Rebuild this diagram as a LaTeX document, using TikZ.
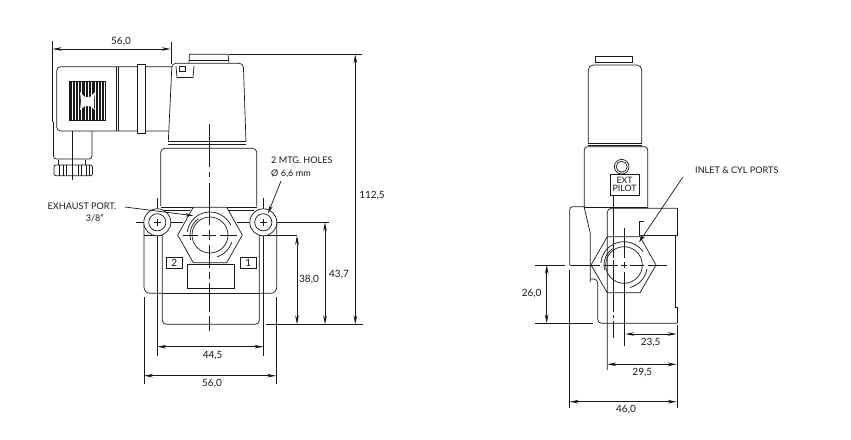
\documentclass[tikz,border=0pt]{standalone}
\usepackage{fontspec}
\setmainfont{Lato}
\usetikzlibrary{arrows.meta}
\definecolor{ink}{RGB}{25,25,25}
\tikzset{
  part/.style={draw=ink,line width=0.7pt},
  thin part/.style={draw=ink,line width=0.5pt},
  ext/.style={draw=ink,line width=0.7pt},
  dim/.style={draw=ink,line width=0.7pt,{Stealth[length=9pt,width=3.6pt]}-{Stealth[length=9pt,width=3.6pt]}},
  leader/.style={draw=ink,line width=0.7pt,-{Stealth[length=8pt,width=3.6pt]}},
  lbl/.style={font=\fontsize{10}{11}\selectfont,text=ink,inner sep=0pt},
  small/.style={font=\fontsize{9.1}{10}\selectfont,text=ink,inner sep=0pt,align=center}
}
\begin{document}
\begin{tikzpicture}[x=1pt,y=-1pt]
\useasboundingbox (0,0) rectangle (851,439);
\fill[white] (0,0) rectangle (851,439);

% ===== LEFT VIEW =====
% connector
\draw[part,rounded corners=4pt] (172,66.7) -- (56.7,66.7) -- (56.7,131) -- (168,131);
\draw[part] (116.6,66.7) -- (116.6,131) (118.4,66.7) -- (118.4,131);
\draw[part,fill=white] (137.3,64.5) rectangle (145.3,133.5);
% grille
\fill[ink] (69.3,81) rectangle (105.7,120.7);
\foreach \x in {72,75.3,78.6,81.9,85.2,88.5,91.8,95.1,98.4,101.7,104.4}
  \draw[white,line width=0.9pt] (\x,81.5) -- (\x,120.2);
\fill[white] (80,92) -- (85,97) -- (90,97) -- (95,92) -- (94,101) -- (94,108) -- (95,110) -- (90,106) -- (85,106) -- (80,110) -- (81,101) -- cycle;
% plug
\draw[part,rounded corners=3pt] (53.5,122) -- (53.5,159) -- (92,159) -- (92,131);
\draw[part] (72.3,131) -- (72.3,180);
\draw[part,rounded corners=2pt] (54,165) rectangle (92.5,175.7);
\draw[part] (58,159.5) -- (58,165) (85,159.5) -- (85,165);
\foreach \x in {59,63,66,78,81,86,89}
  \draw[thin part] (\x,165) -- (\x,175.7);
% coil, cap
\draw[part] (189,62.7) -- (189.4,54.3) -- (228,54.3) -- (229,62.7);
\draw[part] (189,60) -- (229,60);
\draw[part,rounded corners=4pt] (168.3,141.7) -- (172,63.3) -- (243.3,63.3) -- (246,141.7);
\draw[part] (168.3,141.7) -- (246,141.7);
\draw[part] (168.3,144.3) -- (246,144.3);
\draw[part] (176,66) -- (177,77.5) -- (193,77.5) -- (194,66);
\draw[thin part] (179.5,66.5) rectangle (185.5,71.5);
% body
\draw[part,rounded corners=4pt] (160.7,206) -- (160.7,148.3) -- (256.7,148.3) -- (256.7,206);
\draw[part] (160.7,207) -- (193,207) (227,207) -- (256.7,207);
\draw[part] (163,210) -- (190,210) (229,210) -- (254,210);
% base
\draw[part,rounded corners=6pt] (144,222) -- (144,293.3) -- (162.5,293.3);
\draw[part,rounded corners=6pt] (276.7,222) -- (276.7,293.3) -- (259,293.3);
\draw[part] (163,293.5) -- (259,293.5);
\draw[part,rounded corners=4pt] (162.3,235.7) -- (162.3,324.3) -- (259.3,324.3) -- (259.3,235.7);
\draw[part] (144,235.7) -- (162.3,235.7);
\draw[part] (259.3,235.7) -- (297,235.7);
% hex fitting
\draw[part,fill=white] (177.7,235) -- (193.3,207.3) -- (226.7,207.3) -- (242.3,235) -- (226.7,262.7) -- (193.3,262.7) -- cycle;
\draw[part] (210,235) circle[radius=18pt];
\draw[part,shift={(210,235)},x=1pt,y=1pt] (172:23) arc (172:25:23);
\draw[part,shift={(210,235)},x=1pt,y=1pt] (-18:23) arc (-18:-72:23);
\draw[part,shift={(210,235)},x=1pt,y=1pt] (195:20) arc (195:125:20);
% holes
\foreach \cx in {157.3,263.3}{
  \draw[part,fill=white] (\cx,222.3) circle[radius=13.5pt];
  \draw[part] (\cx,222.3) circle[radius=8.6pt];
  \draw[part] (\cx-3.5,222.3) -- (\cx+3.5,222.3) (\cx,218.8) -- (\cx,225.8);
}
% label boxes and plate
\draw[part] (187.3,264.7) rectangle (234,288.3);
\node[draw=ink,line width=0.7pt,minimum width=16pt,minimum height=11.7pt,lbl,anchor=center] (portb) at (174.3,262.8) {2};
\node[draw=ink,line width=0.7pt,minimum width=16pt,minimum height=11.7pt,lbl,anchor=center] (porta) at (248.3,262.8) {1};
% centre lines
\draw[part] (209,124) -- (209,167) (209,172) -- (209,177) (209,183) -- (209,225) (209,230) -- (209,240) (209,245) -- (209,268) (209,272) -- (209,279) (209,283) -- (209,312) (209,316) -- (209,330.7);
\draw[ext] (136,222.3) -- (143.5,222.3) (171,222.3) -- (183,222.3);
\draw[ext] (182.7,235) -- (198,235) (202,235) -- (216,235) (220,235) -- (236.7,235);
\draw[ext] (236.7,222.3) -- (249.5,222.3) (277,222.3) -- (329,222.3);
% dimension extension lines
\draw[ext] (52.5,41) -- (52.5,122);
\draw[ext] (171,42) -- (171,64);
\draw[ext] (157.3,198) -- (157.3,208.5) (157.3,236) -- (157.3,355.7);
\draw[ext] (263.3,198) -- (263.3,208.5) (263.3,236) -- (263.3,355.7);
\draw[ext] (144,297.3) -- (144,384);
\draw[ext] (276,297.3) -- (276,384);
\draw[ext] (229,54.3) -- (362,54.3);
\draw[ext,line width=1pt] (265.7,324.3) -- (363,324.3);
% dimensions
\draw[dim] (52.7,49) -- (170.7,49);
\draw[dim] (157.3,346.7) -- (263.3,346.7);
\draw[dim] (144,375.7) -- (276,375.7);
\draw[dim] (297,235.7) -- (297,324.3);
\draw[dim] (325,222.3) -- (325,324.3);
\draw[dim] (355.3,54.3) -- (355.3,324.3);
\node[lbl] (d56top) at (121,42) {56,0};
\node[lbl] (d445) at (212.7,355.7) {44,5};
\node[lbl] (d56low) at (212,383.5) {56,0};
\node[lbl] (d38) at (309,280) {38,0};
\node[lbl] (d437) at (339,274.3) {43,7};
\node[lbl] (d1125) at (372,196) {112,5};
% notes
\node[small,anchor=east] (exh) at (116.5,206) {EXHAUST PORT.};
\node[small,anchor=east] (exh2) at (104,218.5) {3/8"};
\node[small,anchor=west] (mtg) at (271,160.5) {2 MTG. HOLES};
\node[small,anchor=west] (dia) at (271,174) {Ø 6,6 mm};
\coordinate (exhS) at (125,207);
\coordinate (exhE) at (193.3,215.7);
\coordinate (mtgS) at (281,181);
\coordinate (mtgE) at (268,213.5);
\draw[leader] (exhS) -- (exhE);
\draw[leader] (mtgS) -- (mtgE);

% ===== RIGHT VIEW =====
\draw[part] (595.3,63.3) -- (595.3,56.7) -- (632.3,56.7) -- (632.3,63.3);
\draw[part] (595.3,62) -- (632.3,62);
\draw[part,rounded corners=5pt] (588.3,143.3) -- (588.3,65) -- (641.7,65) -- (641.7,143.3);
\draw[part] (588.3,143.3) -- (641.7,143.3);
\draw[part] (588.3,145.5) -- (641.7,145.5);
\draw[part,rounded corners=3pt] (584.3,207.7) -- (584.3,146.7) -- (647.7,146.7) -- (647.7,207.7);
\draw[part] (584.3,207) -- (647.7,207);
\draw[part] (621.7,166.7) circle[radius=7.3pt];
\draw[part] (621.7,166.7) circle[radius=5.5pt];
\node[draw=ink,line width=0.7pt,minimum width=28.7pt,minimum height=20.7pt,inner sep=0pt,font=\fontsize{8.8}{8.5}\selectfont,text=ink,align=center] (pilot) at (624.6,184.7) {EXT\\[-0.5pt]PILOT};
% block
\draw[part,rounded corners=3pt] (569.7,265) -- (569.7,206.7) -- (585,206.7);
\draw[part] (584.3,207.7) -- (590.3,233.3) -- (590.3,282);
\draw[part,rounded corners=4pt] (590.3,293.3) (590.3,279) -- (597.7,279) -- (597.7,323.3) -- (677.3,323.3);
\draw[part,rounded corners=4pt] (607.3,370) -- (607.3,208.3) -- (677.3,208.3);
\draw[part] (677.3,208.3) -- (677.3,235) -- (639.3,235);
\draw[part] (639.3,235) -- (639.3,221.7) -- (644,221.7);
\draw[part] (675.7,235) -- (675.7,307.3) -- (677.3,307.3) -- (677.3,323.3);
\draw[part] (569.7,270) -- (569.7,408);
% hex
\draw[part] (591,265) -- (607.3,236.7) -- (640,236.7) -- (656,265) -- (640,292.7) -- (607.3,292.7) -- cycle;
\draw[part] (624,265) circle[radius=18.3pt];
\draw[part,shift={(624,265)},x=1pt,y=1pt] (175:23.3) arc (175:35:23.3);
\draw[part,shift={(624,265)},x=1pt,y=1pt] (-10:23.3) arc (-10:-75:23.3);
\draw[part,shift={(624,265)},x=1pt,y=1pt] (195:20) arc (195:125:20);
% centre lines
\draw[part] (613.5,195) -- (613.5,258) (613.5,260) -- (613.5,312) (613.5,315) -- (613.5,318) (613.5,321) -- (613.5,338);
\draw[part] (624,228) -- (624,258) (624,262) -- (624,268) (624,272) -- (624,345.7);
\draw[part] (591,265) -- (600,265) (604,265) -- (618,265) (621,265) -- (627,265) (630,265) -- (644,265) (648,265) -- (667,265);
% dimensions
\draw[ext] (535,265) -- (565,265);
\draw[ext] (569.7,265) -- (591,265);
\draw[ext] (535,323.3) -- (593.3,323.3);
\draw[ext] (677,325) -- (677,408);
\draw[dim] (546.7,265) -- (546.7,323.3);
\draw[dim] (625.3,334) -- (676.7,334);
\draw[dim] (607.3,364.3) -- (676.7,364.3);
\draw[dim] (569.7,401.7) -- (676.7,401.7);
\node[lbl] (d26) at (531.7,293.3) {26,0};
\node[lbl] (d235) at (650.7,342.7) {23,5};
\node[lbl] (d295) at (642.3,372.3) {29,5};
\node[lbl] (d46) at (626,409.3) {46,0};
\node[small,anchor=west] (inlet) at (695,170) {INLET \& CYL PORTS};
\coordinate (inS) at (682.7,177.3);
\coordinate (inE) at (639,242.3);
\draw[leader] (inS) -- (inE);
\end{tikzpicture}
\end{document}
